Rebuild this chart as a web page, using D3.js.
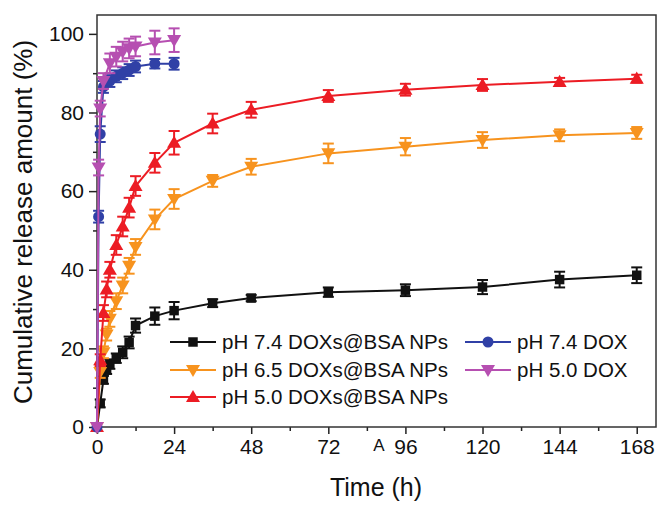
<!DOCTYPE html>
<html>
<head>
<meta charset="utf-8">
<script src="https://cdn.jsdelivr.net/npm/d3@7"></script>
<style>
  body { margin: 0; background: #fff; }
  svg text { font-family: "Liberation Sans", Arial, sans-serif; fill: #111; }
</style>
</head>
<body>
<div id="chart"></div>
<script>
// sampling times (h)
var timesNP = [0, 1, 2, 3, 4, 6, 8, 10, 12, 18, 24, 36, 48, 72, 96, 120, 144, 168];
var timesDOX = [0, 0.5, 1, 2, 4, 6, 8, 10, 12, 18, 24];

// cumulative release (%) and error
var ph74NP = [0, 6, 12, 14.5, 16, 17.5, 19, 21.5, 25.8, 28.2, 29.6, 31.5, 32.8, 34.3, 34.8, 35.6, 37.5, 38.6];
var ph74NPErr = [0, 1, 1, 1, 1.2, 1.2, 1.5, 1.5, 1.8, 2.2, 2.2, 1, 0.8, 1.2, 1.5, 1.8, 2, 2];
var ph65NP = [0, 14, 19, 23.5, 27.5, 32, 36, 41, 45.8, 52.8, 58, 62.6, 66.2, 69.6, 71.3, 73, 74.2, 74.8];
var ph65NPErr = [0, 1.5, 1.5, 1.5, 2, 2, 2, 2, 2, 2.5, 2.5, 1.5, 2, 2.5, 2.2, 2, 1.5, 1.5];
var ph50NP = [0, 17, 29, 35, 40, 46.3, 51, 55.8, 61.3, 67.2, 72.3, 77.2, 80.7, 84.2, 85.8, 87, 87.8, 88.6];
var ph50NPErr = [0, 1.5, 2, 2, 2, 2.5, 2.5, 2.5, 2.5, 2.5, 3, 2.5, 2, 1.5, 1.5, 1.5, 1, 1];
var ph74DOX = [0, 53.5, 74.5, 86.5, 88, 89.2, 90, 90.8, 91.7, 92.4, 92.4];
var ph74DOXErr = [0, 1.5, 2, 1.5, 1.5, 1.5, 1.5, 1.5, 1.5, 1.2, 1.5];
var ph50DOX = [0, 66, 81, 88, 92.5, 94.2, 95.5, 96.3, 96.8, 97.8, 98.4];
var ph50DOXErr = [0, 2, 2, 2, 2.5, 2.5, 2.5, 2.5, 2.5, 3, 3];

var xTicks = [0, 24, 48, 72, 96, 120, 144, 168];
var yTicks = [0, 20, 40, 60, 80, 100];

var series = [
  { name: 'pH 7.4 DOXs@BSA NPs', t: timesNP, v: ph74NP, e: ph74NPErr, color: '#111111', shape: 'square' },
  { name: 'pH 6.5 DOXs@BSA NPs', t: timesNP, v: ph65NP, e: ph65NPErr, color: '#f7931e', shape: 'down' },
  { name: 'pH 5.0 DOXs@BSA NPs', t: timesNP, v: ph50NP, e: ph50NPErr, color: '#ec1c24', shape: 'up' },
  { name: 'pH 7.4 DOX', t: timesDOX, v: ph74DOX, e: ph74DOXErr, color: '#3040a6', shape: 'circle' },
  { name: 'pH 5.0 DOX', t: timesDOX, v: ph50DOX, e: ph50DOXErr, color: '#b64fb1', shape: 'down' }
];

var W = 657, H = 505;
var m = { left: 97, right: 656, top: 15, bottom: 427 };

var x = d3.scaleLinear().domain([0, 174]).range([m.left, m.right]);
var y = d3.scaleLinear().domain([0, 104.8]).range([m.bottom, m.top]);

var svg = d3.select('#chart').append('svg').attr('width', W).attr('height', H);

function symbolPath(shape) {
  if (shape == 'square') return d3.symbol().type(d3.symbolSquare).size(90)();
  if (shape == 'circle') return d3.symbol().type(d3.symbolCircle).size(95)();
  return d3.symbol().type(d3.symbolTriangle).size(85)();
}
function symbolTransform(shape, px, py) {
  if (shape == 'down') return 'translate(' + px + ',' + (py - 1) + ') rotate(180)';
  if (shape == 'up') return 'translate(' + px + ',' + (py + 1) + ')';
  return 'translate(' + px + ',' + py + ')';
}

// axes
var xAxis = d3.axisBottom(x).tickValues(xTicks).tickSize(7).tickPadding(5).tickFormat(d3.format('d'));
var xMinor = d3.axisBottom(x).tickValues(d3.range(12, 174, 24)).tickSize(4).tickFormat('');
var yAxis = d3.axisLeft(y).tickValues(yTicks).tickSize(8).tickPadding(5).tickFormat(d3.format('d'));
var yMinor = d3.axisLeft(y).tickValues(d3.range(10, 104, 20)).tickSize(4).tickFormat('');

function styleAxis(g) {
  g.select('.domain').remove();
  g.selectAll('line').attr('stroke', '#222').attr('stroke-width', 1.5);
  g.selectAll('text').attr('font-size', 21).style('font-family', '"Liberation Sans", Arial, sans-serif').attr('fill', '#111');
}

svg.append('g').attr('transform', 'translate(0,' + m.bottom + ')').call(xAxis).call(styleAxis);
svg.append('g').attr('transform', 'translate(0,' + m.bottom + ')').call(xMinor).call(styleAxis);
svg.append('g').attr('transform', 'translate(' + m.left + ',0)').call(yAxis).call(styleAxis);
svg.append('g').attr('transform', 'translate(' + m.left + ',0)').call(yMinor).call(styleAxis);

svg.append('rect')
  .attr('x', m.left).attr('y', m.top)
  .attr('width', m.right - m.left).attr('height', m.bottom - m.top)
  .attr('fill', 'none').attr('stroke', '#333').attr('stroke-width', 1.5);

// series
var line = d3.line().x(function(d) { return x(d.t); }).y(function(d) { return y(d.v); });

series.forEach(function(s) {
  var pts = s.t.map(function(t, i) { return { t: t, v: s.v[i], e: s.e[i] }; });
  var g = svg.append('g');
  g.append('path').datum(pts).attr('d', line)
    .attr('fill', 'none').attr('stroke', s.color).attr('stroke-width', 2);
  var eb = g.selectAll('.eb').data(pts.filter(function(d) { return d.e > 0; })).enter().append('g');
  eb.append('line')
    .attr('x1', function(d) { return x(d.t); }).attr('x2', function(d) { return x(d.t); })
    .attr('y1', function(d) { return y(d.v - d.e); }).attr('y2', function(d) { return y(d.v + d.e); })
    .attr('stroke', s.color).attr('stroke-width', 2);
  [-1, 1].forEach(function(sign) {
    eb.append('line')
      .attr('x1', function(d) { return x(d.t) - 5.5; }).attr('x2', function(d) { return x(d.t) + 5.5; })
      .attr('y1', function(d) { return y(d.v + sign * d.e); }).attr('y2', function(d) { return y(d.v + sign * d.e); })
      .attr('stroke', s.color).attr('stroke-width', 2);
  });
  g.selectAll('.pt').data(pts).enter().append('path')
    .attr('d', symbolPath(s.shape))
    .attr('transform', function(d) { return symbolTransform(s.shape, x(d.t), y(d.v)); })
    .attr('fill', s.color);
});

// legend
var legendPos = [[170, 342], [170, 370], [170, 397], [465, 342], [465, 370]];
series.forEach(function(s, i) {
  var lx = legendPos[i][0], ly = legendPos[i][1];
  var g = svg.append('g');
  g.append('line').attr('x1', lx).attr('x2', lx + 46).attr('y1', ly).attr('y2', ly)
    .attr('stroke', s.color).attr('stroke-width', 2);
  g.append('path').attr('d', symbolPath(s.shape))
    .attr('transform', symbolTransform(s.shape, lx + 23, ly)).attr('fill', s.color);
  g.append('text').attr('x', lx + 52).attr('y', ly + 7).attr('font-size', 20.5).text(s.name);
});

// axis titles
svg.append('text')
  .attr('transform', 'translate(32,222) rotate(-90)')
  .attr('text-anchor', 'middle').attr('font-size', 26)
  .text('Cumulative release amount (%)');
svg.append('text')
  .attr('x', 376).attr('y', 496)
  .attr('text-anchor', 'middle').attr('font-size', 25)
  .text('Time (h)');

// stray letter below the axis in the original figure
svg.append('text')
  .attr('x', 379).attr('y', 451)
  .attr('text-anchor', 'middle').attr('font-size', 17)
  .text('A');
</script>
</body>
</html>
